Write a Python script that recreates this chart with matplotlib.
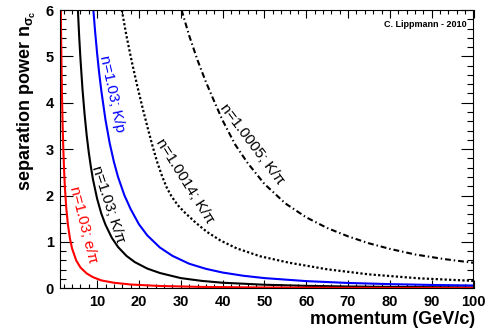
import matplotlib
matplotlib.use("Agg")
import matplotlib.pyplot as plt
from matplotlib.ticker import MultipleLocator

plt.rcParams['font.family'] = ['Liberation Sans', 'DejaVu Sans']
plt.rcParams['mathtext.fontset'] = 'custom'
plt.rcParams['mathtext.rm'] = 'Liberation Sans:bold'
plt.rcParams['mathtext.it'] = 'Liberation Sans:bold'
plt.rcParams['mathtext.bf'] = 'Liberation Sans:bold'

# ---- data ----
p_epi_103 = [1.32, 1.4, 1.5, 1.6, 1.75, 1.9, 2.1, 2.3, 2.6, 3.0, 3.5, 4.0, 5.0, 6.0,
             7.5, 9.0, 11.0, 14.0, 18.0, 25.0, 35.0, 50.0, 70.0, 100.0]
n_epi_103 = [5.98, 5.33, 4.68, 4.14, 3.51, 3.03, 2.54, 2.16, 1.75, 1.38, 1.07, 0.86,
             0.60, 0.45, 0.32, 0.24, 0.17, 0.12, 0.082, 0.05, 0.03, 0.017, 0.01, 0.006]

p_kpi_103 = [5.4, 5.7, 6.0, 6.5, 7.0, 7.5, 8.0, 8.5, 9.0, 10.0, 11.0, 12.0, 13.5, 15.0,
             17.0, 19.0, 22.0, 25.0, 30.0, 35.0, 40.0, 50.0, 60.0, 70.0, 85.0, 100.0]
n_kpi_103 = [6.0, 5.44, 4.96, 4.29, 3.75, 3.30, 2.93, 2.62, 2.35, 1.93, 1.61, 1.37,
             1.09, 0.89, 0.70, 0.565, 0.425, 0.33, 0.22, 0.16, 0.12, 0.077, 0.053,
             0.039, 0.027, 0.019]

p_kp_103 = [9.1, 9.5, 10.0, 10.5, 11.0, 12.0, 13.0, 14.0, 15.0, 16.5, 18.0, 20.0, 22.0,
            25.0, 28.0, 32.0, 36.0, 40.0, 45.0, 50.0, 60.0, 70.0, 80.0, 90.0, 100.0]
n_kp_103 = [6.0, 5.55, 5.06, 4.63, 4.26, 3.63, 3.13, 2.73, 2.40, 2.01, 1.71, 1.38, 1.14,
            0.88, 0.70, 0.53, 0.42, 0.34, 0.27, 0.22, 0.155, 0.115, 0.09, 0.072,
            0.06]

p_kpi_10014 = [15.9, 17.0, 18.3, 19.6, 21.0, 22.2, 23.3, 24.4, 25.6, 26.7, 27.8, 29.3,
               31.0, 33.5, 36.2, 39.5, 43.4, 49.0, 56.0, 65.0, 75.0, 87.0, 100.0]
n_kpi_10014 = [6.0, 5.45, 4.88, 4.36, 3.84, 3.42, 3.05, 2.71, 2.40, 2.16, 1.98, 1.79,
               1.63, 1.42, 1.22, 1.03, 0.86, 0.69, 0.55, 0.41, 0.30, 0.215, 0.16]

p_kpi_10005 = [30.2, 32.0, 34.0, 36.0, 38.0, 40.0, 43.0, 46.0, 50.0, 55.0, 60.0, 65.0,
               70.0, 75.0, 80.0, 86.0, 93.0, 100.0]
n_kpi_10005 = [6.0, 5.45, 4.92, 4.45, 4.03, 3.62, 3.10, 2.70, 2.25, 1.83, 1.53, 1.30,
               1.12, 0.97, 0.85, 0.73, 0.63, 0.55]

x_ticks = [10, 20, 30, 40, 50, 60, 70, 80, 90, 100]
y_ticks = [0, 1, 2, 3, 4, 5, 6]

W, H = 491, 332
fig = plt.figure(figsize=(W / 100, H / 100), dpi=100)
L, R, T, B = 59.5, 473.5, 10.0, 288.3
ax = fig.add_axes([L / W, 1 - B / H, (R - L) / W, (B - T) / H])

ax.plot(p_kpi_10005, n_kpi_10005, color='black', lw=1.5, ls=(0, (2.8, 1.4, 0.7, 1.4)))
ax.plot(p_kpi_10014, n_kpi_10014, color='black', lw=1.6, ls=(0, (1, 1)))
ax.plot(p_kpi_103, n_kpi_103, color='black', lw=1.5)
ax.plot(p_kp_103, n_kp_103, color='#0000ff', lw=1.5)
ax.plot(p_epi_103, n_epi_103, color='#ff0000', lw=1.5)

ax.set_xlim(1, 100)
ax.set_ylim(0, 6)
ax.set_xticks(x_ticks)
ax.set_yticks(y_ticks)
ax.xaxis.set_minor_locator(MultipleLocator(2))
ax.yaxis.set_minor_locator(MultipleLocator(0.2))
ax.tick_params(which='both', direction='in', top=True, right=True, width=0.8)
ax.tick_params(axis='x', which='major', length=6, pad=5)
ax.tick_params(axis='x', which='minor', length=3)
ax.tick_params(axis='y', which='major', length=9, pad=4)
ax.tick_params(axis='y', which='minor', length=4.5)
for lab in ax.get_xticklabels() + ax.get_yticklabels():
    lab.set_fontweight('bold')
    lab.set_fontsize(10.5)
for s in ax.spines.values():
    s.set_linewidth(0.8)

fig.text(475 / W, 1 - 320 / H, 'momentum (GeV/c)', ha='right', va='center',
         fontsize=13, fontweight='bold')
fig.text(27 / W, 1 - 10 / H, r'separation power n$_{\sigma_{c}}$', rotation=90,
         rotation_mode='anchor', ha='right', va='center', fontsize=13, fontweight='bold')

ax.text(0.983, 0.947, 'C. Lippmann - 2010', transform=ax.transAxes, ha='right',
        va='center', fontsize=6.5, fontweight='bold')

def px2data(px, py):
    return 1 + (px - L) / ((R - L) / 99.0), (B - py) / ((B - T) / 6.0)

labels = [
    ('n=1.03; K/p', 112, 94, -78, '#0000ff'),
    ('n=1.03; K/π', 108, 204, -72, 'black'),
    ('n=1.03; e/π', 83, 225, -76, '#ff0000'),
    ('n=1.0014; K/π', 185, 181.5, -58, 'black'),
    ('n=1.0005; K/π', 252, 144, -53, 'black'),
]
for txt, px, py, rot, col in labels:
    xd, yd = px2data(px, py)
    ax.text(xd, yd, txt, rotation=rot, rotation_mode='anchor', ha='center',
            va='center', fontsize=11, color=col)

fig.savefig('out.png', dpi=100)
